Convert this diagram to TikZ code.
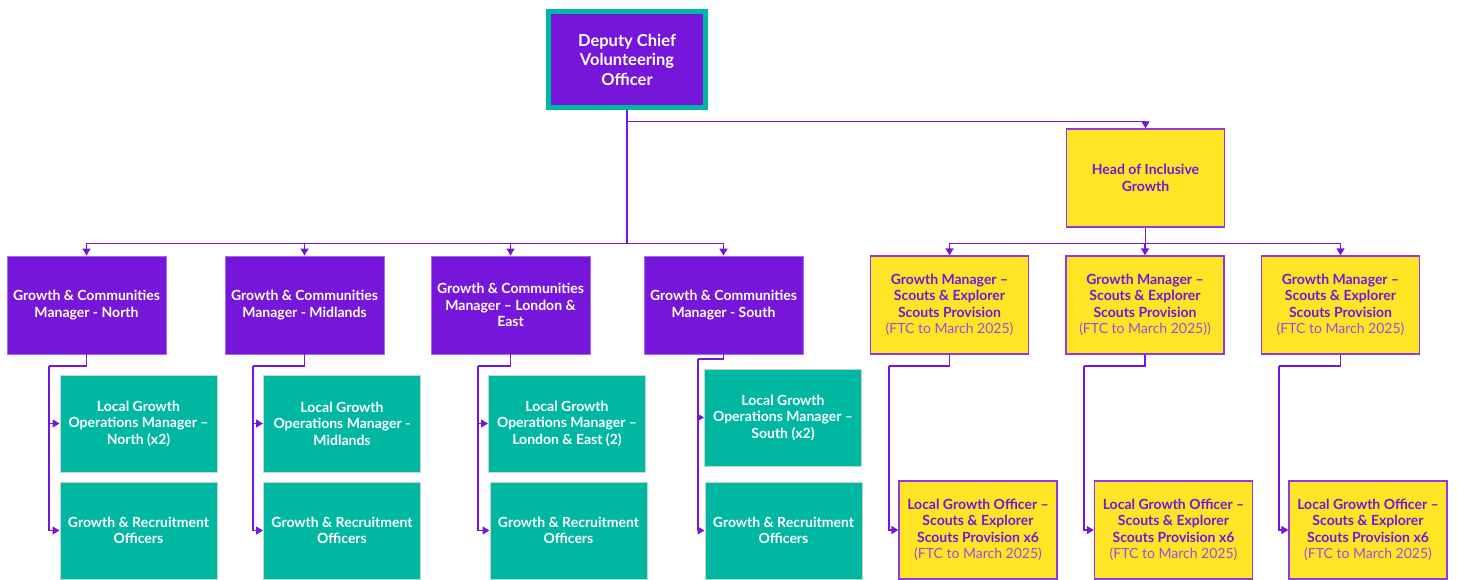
\documentclass[tikz,border=0pt]{standalone}
\usepackage{fontspec}
\setmainfont{Lato}
\usetikzlibrary{arrows.meta}
\definecolor{vpurple}{RGB}{118,22,218}
\definecolor{lpurple}{RGB}{150,80,225}
\definecolor{bpurple}{RGB}{160,110,235}
\definecolor{vteal}{RGB}{0,184,162}
\definecolor{tborder}{RGB}{190,215,210}
\definecolor{vyellow}{RGB}{255,229,36}
\tikzset{
  box/.style={rectangle, inner sep=0pt, align=center, font=\fontsize{14}{16.4}\selectfont\bfseries},
  mgr/.style={box, fill=vpurple, draw=bpurple, line width=0.8pt, text=white, minimum width=159pt, minimum height=98pt},
  tbox/.style={box, fill=vteal, draw=tborder, line width=1pt, text=white, minimum width=157pt, minimum height=97pt},
  ybox/.style={box, fill=vyellow, draw=vpurple!85, line width=1.3pt, text=vpurple, minimum width=158pt, minimum height=98pt},
  topbox/.style={rectangle, inner sep=0pt, align=center, fill=vpurple, draw=vteal, line width=5pt, text=white,
     minimum width=157pt, minimum height=96pt, font=\fontsize{16.5}{19.5}\selectfont\bfseries},
  conn/.style={draw=vpurple, line width=1.3pt},
  arr/.style={conn, -{Triangle[length=7pt,width=8pt]}}
}
\newcommand{\ftcline}[1]{{\mdseries\color{lpurple}#1}}
\begin{document}
\begin{tikzpicture}[x=1pt,y=-1pt]
\useasboundingbox[fill=white] (0,0) rectangle (1457,579);

% top
\node[topbox] (top) at (627,59.5) {Deputy Chief\\Volunteering\\Officer};

% managers
\node[mgr] (m1) at (86.5,305) {Growth \& Communities\\Manager - North};
\node[mgr] (m2) at (304.5,305) {Growth \& Communities\\Manager - Midlands};
\node[mgr] (m3) at (510.5,305) {Growth \& Communities\\Manager -- London \&\\East};
\node[mgr] (m4) at (723.5,305) {Growth \& Communities\\Manager - South};

% teal boxes
\node[tbox] (l1) at (138.5,423.5) {Local Growth\\Operations Manager --\\North (x2)};
\node[tbox] (r1) at (138.5,530.5) {Growth \& Recruitment\\Officers};
\node[tbox] (l2) at (342,423.5) {Local Growth\\Operations Manager -\\Midlands};
\node[tbox] (r2) at (342,530.5) {Growth \& Recruitment\\Officers};
\node[tbox] (l3) at (567,423.5) {Local Growth\\Operations Manager --\\London \& East (2)};
\node[tbox] (r3) at (568.5,530.5) {Growth \& Recruitment\\Officers};
\node[tbox] (l4) at (783,417.5) {Local Growth\\Operations Manager --\\South (x2)};
\node[tbox] (r4) at (783.5,530.5) {Growth \& Recruitment\\Officers};

% head
\node[ybox] (head) at (1145.5,178) {Head of Inclusive\\Growth};

% growth managers
\node[ybox] (g1) at (949.5,305) {Growth Manager --\\Scouts \& Explorer\\Scouts Provision\\\ftcline{(FTC to March 2025)}};
\node[ybox] (g2) at (1145,305) {Growth Manager --\\Scouts \& Explorer\\Scouts Provision\\\ftcline{(FTC to March 2025))}};
\node[ybox] (g3) at (1340.5,305) {Growth Manager --\\Scouts \& Explorer\\Scouts Provision\\\ftcline{(FTC to March 2025)}};

% local growth officers
\node[ybox] (o1) at (978,530) {Local Growth Officer --\\Scouts \& Explorer\\Scouts Provision x6\\\ftcline{(FTC to March 2025)}};
\node[ybox] (o2) at (1173.5,530) {Local Growth Officer --\\Scouts \& Explorer\\Scouts Provision x6\\\ftcline{(FTC to March 2025)}};
\node[ybox] (o3) at (1368,530) {Local Growth Officer --\\Scouts \& Explorer\\Scouts Provision x6\\\ftcline{(FTC to March 2025)}};

% bus coordinates
\coordinate (bus0) at (627,121.5);
\coordinate (bus1) at (627,243.5);
\coordinate (bus2) at (1145.5,243.5);
\coordinate (k1) at (49,366);
\coordinate (k2) at (253,366);
\coordinate (k3) at (478,366);
\coordinate (k4) at (698,359);
\coordinate (q1) at (889,366);
\coordinate (q2) at (1084,366);
\coordinate (q3) at (1279,366);

% connectors from top
\draw[conn] (top.south) -- (bus1);
\foreach \m in {m1,m2,m3,m4}{
  \draw[arr] (bus1) -| (\m.north);
}
\draw[arr] (bus0) -| (head.north);

% head to growth managers
\draw[conn] (head.south) -- (bus2);
\foreach \g in {g1,g2,g3}{
  \draw[arr] (bus2) -| (\g.north);
}

% managers to teal boxes
\draw[conn] (m1.south) |- (k1);
\draw[arr] (k1) |- (l1.west);
\draw[arr] (k1) |- (r1.west);
\draw[conn] (m2.south) |- (k2);
\draw[arr] (k2) |- (l2.west);
\draw[arr] (k2) |- (r2.west);
\draw[conn] (m3.south) |- (k3);
\draw[arr] (k3) |- (l3.west);
\draw[arr] (k3) |- (r3.west);
\draw[conn] (m4.south) |- (k4);
\draw[arr] (k4) |- (l4.west);
\draw[arr] (k4) |- (r4.west);

% growth managers to local officers
\draw[conn] (g1.south) |- (q1);
\draw[arr] (q1) |- (o1.west);
\draw[conn] (g2.south) |- (q2);
\draw[arr] (q2) |- (o2.west);
\draw[conn] (g3.south) |- (q3);
\draw[arr] (q3) |- (o3.west);
\end{tikzpicture}
\end{document}
